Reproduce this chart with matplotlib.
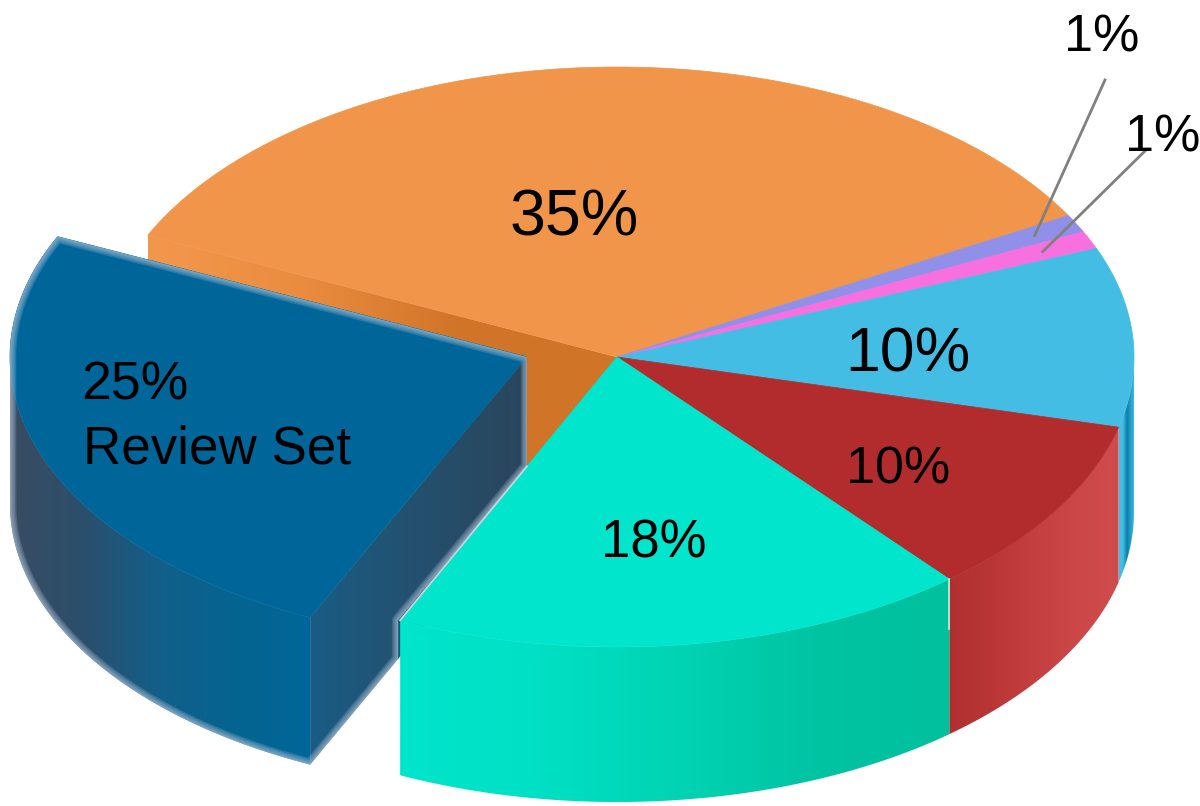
import numpy as np
import matplotlib
matplotlib.use("Agg")
import matplotlib.pyplot as plt
from matplotlib.colors import LinearSegmentedColormap
from matplotlib.patches import Polygon

plt.rcParams['font.family'] = ['Liberation Sans', 'DejaVu Sans']

# slices, clockwise from the back left edge
names = ["main", "purple", "pink", "sky", "red", "teal", "review"]
values = [35, 1, 1, 10, 10, 18, 25]
top_colors = ["#f0954a", "#9090e8", "#f870e0", "#44bde5", "#b22c2e", "#00e5cc", "#006699"]

# pie geometry in pixels
start_angle = 155.2
cx, cy = 617, 357
rx, ry = 517, 290
depth = 155
bx, by = 527, 357      # pulled out slice
bry = 287
bdepth = 147


def ell(x0, y0, ryy, a):
    a = np.radians(a)
    return np.column_stack([x0 + rx * np.cos(a), y0 - ryy * np.sin(a)])


def strips(ax, top, bottom, colors, z):
    # wall with a sideways gradient: image clipped to the wall outline
    cm = LinearSegmentedColormap.from_list("w", colors)
    grad = np.linspace(0, 1, 256)[None, :]
    if top[0, 0] > top[-1, 0]:
        grad = grad[:, ::-1]
    pts = np.vstack([top, bottom[::-1]])
    box = (pts[:, 0].min(), pts[:, 0].max(), pts[:, 1].max(), pts[:, 1].min())
    im = ax.imshow(grad, cmap=cm, extent=box, aspect="auto", zorder=z, interpolation="bilinear")
    im.set_clip_path(Polygon(pts, closed=True, transform=ax.transData))


fig = plt.figure(figsize=(12, 8.06), dpi=100)
ax = fig.add_axes([0, 0, 1, 1])
ax.axis("off")

edges = start_angle - np.cumsum([0] + values) * 3.6
span = {n: (edges[i], edges[i + 1]) for i, n in enumerate(names)}
col = dict(zip(names, top_colors))
down = np.array([0, depth])
centre = np.array([cx, cy])

# orange cut face, mostly hidden by the pulled out slice
corner = ell(cx, cy, ry, span["main"][0])[0]
t = np.linspace(0, 1, 60)[:, None]
cut = corner + (centre - corner) * t
strips(ax, cut, cut + down, ["#f2984c", "#ea8c40", "#d07428", "#d07428"], 1)


def top_slice(x0, y0, ryy, name, z):
    a = np.linspace(*span[name], 120)
    pts = np.vstack([[x0, y0], ell(x0, y0, ryy, a)])
    ax.add_patch(Polygon(pts, closed=True, fc=col[name], ec=col[name], lw=0.5, zorder=z))


# right hand walls
a = np.linspace(0, span["sky"][1], 60)
arc = ell(cx, cy, ry, a)
strips(ax, arc, arc + down, ["#48bfe6", "#2a9fcb", "#0a7fae", "#44bde5", "#44bde5"], 2)
arc = ell(cx, cy, ry, np.linspace(*span["red"], 80))
strips(ax, arc, arc + down, ["#d04c4c", "#cc4848", "#c44040", "#ba3636", "#b03030"], 2)

# pulled out slice: inner face and outer wall
review_back = span["review"][1] + 360   # back left corner
review_front = span["review"][0] + 360  # front corner
apex = np.array([bx, by])
end = ell(bx, by, bry, review_front)[0]
bd = np.array([0, bdepth])
cut = apex + (end - apex) * t
strips(ax, cut, cut + bd, ["#2a465c", "#24506e", "#1a5c84"], 3)
arc = ell(bx, by, bry, np.linspace(180, review_front, 120))
strips(ax, arc, arc + bd, ["#3a4c62", "#2a4f6c", "#125f8a", "#056490", "#006699"], 3)
top_slice(bx, by, bry, "review", 4)

# soft edge round the pulled out slice, follows the teal cut
tc = ell(cx, cy, ry, span["teal"][1])[0]
ty = cy + (tc[1] - cy) * (bx - cx) / (tc[0] - cx)
bot_end = end + bd
slope = apex + bd - bot_end
ny = bot_end[1] + slope[1] * (tc[0] - 2 - bot_end[0]) / slope[0]
left_arc = ell(bx, by, bry, np.linspace(review_back, 180, 40))
sil = np.vstack([apex, left_arc, arc + bd, [[tc[0] - 2, ny], [tc[0] - 2, tc[1]], [bx, ty]]])
clip = Polygon(sil, closed=True, transform=ax.transData)
for w in [9, 7, 5, 3, 1.5]:
    ln, = ax.plot(*np.vstack([sil, sil[:1]]).T, color="#a8bed6", lw=w, alpha=0.22,
                  solid_joinstyle="round", zorder=5)
    ln.set_clip_path(clip)

# main pie top, the pulled out slice stays in front of it
for n in names[:5]:
    top_slice(cx, cy, ry, n, 2.5)

# teal goes over the pulled out slice
arc = ell(cx, cy, ry, np.linspace(span["teal"][1], span["teal"][0], 90))
strips(ax, arc, arc + down, ["#00e5cc", "#00e0c4", "#00d4b4", "#00c4a2", "#00c09e"], 6)
top_slice(cx, cy, ry, "teal", 7)
ax.plot([bx, tc[0]], [ty, tc[1]], color="#ccd4da", lw=1.3, zorder=7)
rc = ell(cx, cy, ry, span["red"][1])[0]
ax.plot([rc[0], rc[0]], [rc[1], rc[1] + 50], color="#d0e8e0", lw=1.2, zorder=7)

# labels
big = dict(color="black", va="baseline", ha="left", zorder=9)
ax.text(510, 235, f"{values[0]}%", fontsize=46.5, **big)
ax.text(845, 372, f"{values[3]}%", fontsize=45, **big)
ax.text(846, 483, f"{values[4]}%", fontsize=37.5, **big)
ax.text(601, 558, f"{values[5]}%", fontsize=38, **big)
ax.text(81, 399, f"{values[6]}%", fontsize=38.5, **big)
ax.text(83, 463, "Review Set", fontsize=38.2, **big)
ax.text(1064, 51, f"{values[1]}%", fontsize=37.5, **big)
ax.text(1125, 152, f"{values[2]}%", fontsize=37.5, **big)

# leader lines for the two small slices
for n, f, tip in [("purple", 0.91, (1105, 80)), ("pink", 0.9, (1145, 151))]:
    p = ell(cx, cy, ry * f, np.mean(span[n]))[0]
    p[0] = cx + (p[0] - cx) * f
    ax.plot([p[0], tip[0]], [p[1], tip[1]], color="#808080", lw=2, zorder=8)

ax.set_xlim(0, 1200)
ax.set_ylim(806, 0)

fig.savefig("out.png", dpi=100)
